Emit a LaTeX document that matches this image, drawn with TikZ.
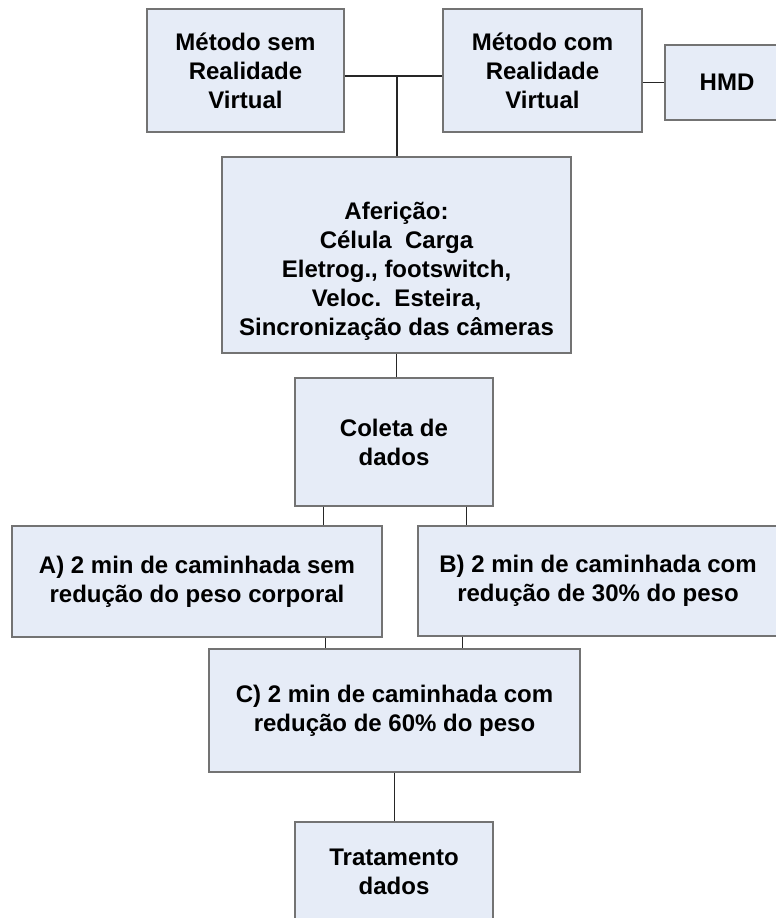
\documentclass[tikz,border=0pt]{standalone}
\usepackage{fontspec}
\setmainfont{Liberation Sans}
\usetikzlibrary{positioning,calc}
\definecolor{boxfill}{HTML}{E6ECF7}
\definecolor{boxline}{HTML}{737373}

\begin{document}
\begin{tikzpicture}[x=1pt, y=-1pt,
  bx/.style={rectangle, draw=boxline, line width=1.4pt, fill=boxfill, inner sep=0pt, align=center, font=\fontsize{24}{29}\selectfont\bfseries},
  ln/.style={line width=1.2pt, black!85}
]
  \useasboundingbox (0,0) rectangle (776,918);
  \clip (0,0) rectangle (776,918);
  \fill[white] (0,0) rectangle (776,918);
  \node[bx, minimum width=197pt, minimum height=123pt] (sem) at (245.5,70.5) {Método sem\\Realidade\\Virtual};
  \node[bx, minimum width=199pt, minimum height=123pt] (com) at (542.5,70.5) {Método com\\Realidade\\Virtual};
  \node[bx, minimum width=124pt, minimum height=75pt] (hmd) at (727,82.5) {HMD};
  \node[bx, minimum width=349pt, minimum height=196pt] (afe) at (396.5,255) {\mbox{}\\[20pt]Aferição:\\Célula\ \ Carga\\Eletrog., footswitch,\\Veloc.\ \ Esteira,\\Sincronização das câmeras};
  \node[bx, minimum width=198pt, minimum height=128pt] (col) at (394,442) {Coleta de\\dados};
  \node[bx, minimum width=370pt, minimum height=111pt] (ca) at (197,581.5) {A) 2 min de caminhada sem\\redução do peso corporal};
  \node[bx, minimum width=360pt, minimum height=110pt] (cb) at (598,581) {B) 2 min de caminhada com\\redução de 30\% do peso};
  \node[bx, minimum width=371pt, minimum height=123pt] (cc) at (394.5,710.5) {C) 2 min de caminhada com\\redução de 60\% do peso};
  \node[bx, minimum width=198pt, minimum height=99pt] (tra) at (394,871.5) {Tratamento\\dados};
  \coordinate (jt) at (397,76);
  \draw[ln] (jt -| sem.east) -- (jt -| com.west);
  \draw[ln] (jt) -- (jt |- afe.north);
  \draw[ln] (hmd.west) -- (hmd.west -| com.east);
  \draw[ln] (afe.south) -- (afe.south |- col.north);
  \draw[ln] ([xshift=29pt]col.south west) -- ([xshift=29pt]col.south west |- ca.north);
  \draw[ln] ([xshift=-27pt]col.south east) -- ([xshift=-27pt]col.south east |- cb.north);
  \draw[ln] ([xshift=-57pt]ca.south east) -- ([xshift=-57pt]ca.south east |- cc.north);
  \draw[ln] ([xshift=45pt]cb.south west) -- ([xshift=45pt]cb.south west |- cc.north);
  \draw[ln] (cc.south) -- (cc.south |- tra.north);
\end{tikzpicture}
\end{document}
